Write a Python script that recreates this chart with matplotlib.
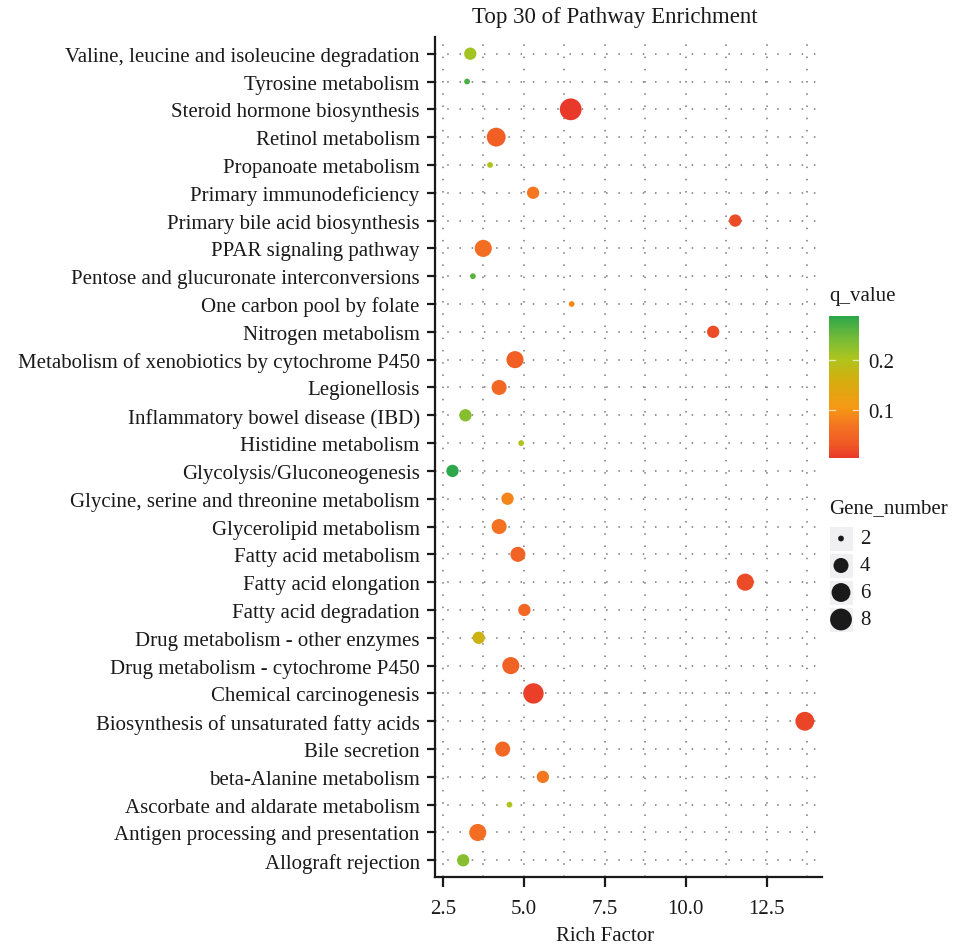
import numpy as np
import matplotlib
matplotlib.use("Agg")
import matplotlib.pyplot as plt
from matplotlib.colors import LinearSegmentedColormap, Normalize
from matplotlib.cm import ScalarMappable
from matplotlib.ticker import FixedLocator

plt.rcParams["font.family"] = ["Liberation Serif", "DejaVu Serif"]

# Pathways listed bottom to top
pathways = [
    "Allograft rejection",
    "Antigen processing and presentation",
    "Ascorbate and aldarate metabolism",
    "beta-Alanine metabolism",
    "Bile secretion",
    "Biosynthesis of unsaturated fatty acids",
    "Chemical carcinogenesis",
    "Drug metabolism - cytochrome P450",
    "Drug metabolism - other enzymes",
    "Fatty acid degradation",
    "Fatty acid elongation",
    "Fatty acid metabolism",
    "Glycerolipid metabolism",
    "Glycine, serine and threonine metabolism",
    "Glycolysis/Gluconeogenesis",
    "Histidine metabolism",
    "Inflammatory bowel disease (IBD)",
    "Legionellosis",
    "Metabolism of xenobiotics by cytochrome P450",
    "Nitrogen metabolism",
    "One carbon pool by folate",
    "Pentose and glucuronate interconversions",
    "PPAR signaling pathway",
    "Primary bile acid biosynthesis",
    "Primary immunodeficiency",
    "Propanoate metabolism",
    "Retinol metabolism",
    "Steroid hormone biosynthesis",
    "Tyrosine metabolism",
    "Valine, leucine and isoleucine degradation",
]
rich_factor = [3.13, 3.58, 4.56, 5.59, 4.35, 13.68, 5.30, 4.60, 3.61, 5.02,
               11.84, 4.82, 4.24, 4.50, 2.80, 4.92, 3.20, 4.24, 4.73, 10.85,
               6.48, 3.43, 3.75, 11.53, 5.29, 3.96, 4.15, 6.45, 3.25, 3.35]
q_value = [0.230, 0.060, 0.200, 0.070, 0.050, 0.015, 0.010, 0.045, 0.170, 0.050,
           0.020, 0.045, 0.065, 0.085, 0.288, 0.200, 0.230, 0.050, 0.040, 0.020,
           0.090, 0.260, 0.060, 0.020, 0.070, 0.200, 0.040, 0.004, 0.270, 0.210]
gene_number = [3, 5, 2, 3, 4, 6, 7, 5, 3, 3,
               5, 4, 4, 3, 3, 2, 3, 4, 5, 3,
               2, 2, 5, 3, 3, 2, 6, 8, 2, 3]

x_ticks = [2.5, 5.0, 7.5, 10.0, 12.5]
x_minor = [3.75, 6.25, 8.75, 11.25, 13.75]
q_ticks = [0.1, 0.2]
size_breaks = [2, 4, 6, 8]

W, H, DPI = 954, 945, 100
FS = 15
TXT = "#1a1a1a"
fig = plt.figure(figsize=(W / DPI, H / DPI), dpi=DPI)

def fig_rect(x0, y0, x1, y1):
    return [x0 / W, 1 - y1 / H, (x1 - x0) / W, (y1 - y0) / H]

cmap = LinearSegmentedColormap.from_list(
    "rog",
    [(0.0, "#E8392A"), (0.10, "#F05A25"), (0.22, "#F47322"), (0.36, "#F59A14"),
     (0.55, "#D5AE0E"), (0.70, "#ADC51E"), (0.85, "#72BA38"), (1.0, "#2CA74A")])
norm = Normalize(vmin=min(q_value), vmax=max(q_value))

gmin, gmax = min(gene_number), max(gene_number)

def gene_to_area(g):
    g = np.asarray(g, dtype=float)
    size = 1 + 5 * np.sqrt((g - gmin) / (gmax - gmin))
    diam_px = 3.2 * size + 2.6
    return (diam_px * 72 / DPI) ** 2

ax = fig.add_axes(fig_rect(435, 38, 822, 878))
ypos = np.arange(len(pathways))
ax.scatter(rich_factor, ypos, s=gene_to_area(gene_number), c=q_value,
           cmap=cmap, norm=norm, edgecolors="none", zorder=3)

ax.set_xlim(2.26, 14.21)
ax.set_ylim(-0.6, len(pathways) - 0.4)
ax.set_yticks(ypos)
ax.set_yticklabels(pathways, fontsize=FS, color=TXT)
ax.xaxis.set_major_locator(FixedLocator(x_ticks))
ax.xaxis.set_minor_locator(FixedLocator(x_minor))
ax.set_xticklabels([f"{t:.1f}" for t in x_ticks], fontsize=FS, color=TXT)
ax.tick_params(axis="y", which="major", length=6, width=1.6, color=TXT, pad=5)
ax.tick_params(axis="x", which="major", length=7, width=1.6, color=TXT, pad=9)
ax.tick_params(axis="x", which="minor", length=0)

grid_kw = dict(color="#777777", linewidth=1.1, linestyle=(0, (1, 7)))
ax.xaxis.grid(True, which="both", **grid_kw)
ax.yaxis.grid(True, which="major", **grid_kw)
ax.set_axisbelow(True)

for side in ("top", "right"):
    ax.spines[side].set_visible(False)
for side in ("left", "bottom"):
    ax.spines[side].set_linewidth(1.6)
    ax.spines[side].set_color(TXT)

ax.set_xlabel("Rich Factor", fontsize=FS, color=TXT)
ax.xaxis.set_label_coords((605 - 435) / 387, -(937 - 878) / 840)
ax.xaxis.label.set_va("center")
fig.text(615 / W, 1 - 17 / H, "Top 30 of Pathway Enrichment", fontsize=16.5,
         ha="center", va="center", color=TXT)

# Colour bar for q_value
fig.text(829 / W, 1 - 297 / H, "q_value", fontsize=FS, ha="left", va="center",
         color=TXT)
cax = fig.add_axes(fig_rect(829, 317, 859, 459))
cb = fig.colorbar(ScalarMappable(norm=norm, cmap=cmap), cax=cax)
cb.outline.set_visible(False)
cb.set_ticks(q_ticks)
cb.set_ticklabels([f"{t:.1f}" for t in q_ticks])
cax.tick_params(length=0, labelsize=FS, pad=7, labelcolor=TXT)
for t in q_ticks:
    cax.plot([0, 0.2], [t, t], color="white", lw=0.9, alpha=0.7,
             transform=cax.get_yaxis_transform())
    cax.plot([0.8, 1.0], [t, t], color="white", lw=0.9, alpha=0.7,
             transform=cax.get_yaxis_transform())

# Size legend for Gene_number
fig.text(829 / W, 1 - 509 / H, "Gene_number", fontsize=FS, ha="left", va="center",
         color=TXT)
lax = fig.add_axes(fig_rect(829, 525, 954, 635))
lax.set_xlim(829, 954)
lax.set_ylim(635, 525)
lax.axis("off")
key_y = [539.5, 566.5, 593.5, 620.5]
for yk, b in zip(key_y, size_breaks):
    lax.add_patch(plt.Rectangle((829, yk - 12.5), 24, 25, facecolor="#F0F0F2",
                                edgecolor="white", lw=0.8))
    lax.scatter([841], [yk], s=gene_to_area(b), color=TXT, edgecolors="none")
    lax.text(860, yk, str(b), fontsize=FS, ha="left", va="center", color=TXT)

fig.savefig("out.png", dpi=DPI)
